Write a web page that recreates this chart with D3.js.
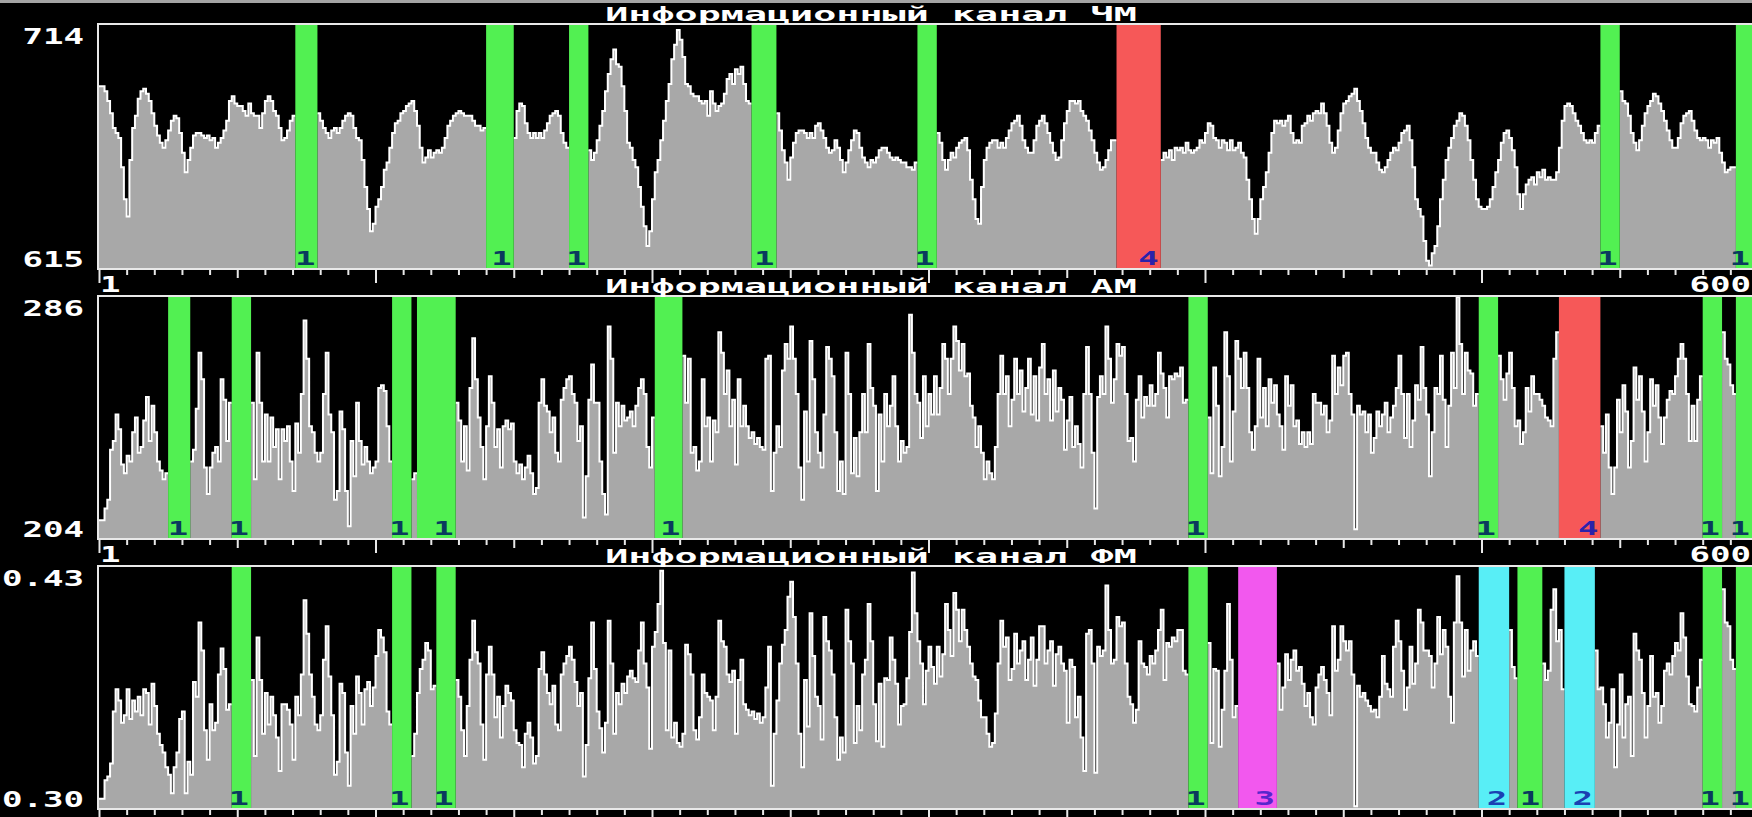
<!DOCTYPE html>
<html>
<head>
<meta charset="utf-8">
<script src="https://cdn.jsdelivr.net/npm/d3@7"></script>
<style>
html,body{margin:0;padding:0;background:#000;overflow:hidden}
</style>
</head>
<body>
<svg id="screen"></svg>
<script>
const N = null;
const titles = ["Информационный канал ЧМ", "Информационный канал АМ", "Информационный канал ФМ"];
const yTickLabels = [["615","714"],["204","286"],["0.30","0.43"]];
const yDomains = [[615,714],[204,286],[0.30,0.43]];
const xTickLabels = ["1","600"];

// one value per sample, null where a marker band covers the trace
const chmValues = [
689,689,687,683,678,672,670,668,656,643,
636,659,672,677,684,687,688,686,683,678,
673,669,666,664,667,671,675,677,676,670,
662,654,659,664,669,670,670,669,668,669,
667,668,664,666,668,671,675,683,685,682,
681,681,679,677,682,678,677,677,672,678,
683,685,683,679,677,672,667,668,671,675,
677,N,N,N,N,N,N,N,N,678,
675,672,670,668,671,672,670,672,675,677,
678,677,672,668,667,659,648,639,630,633,
640,643,648,655,658,664,670,674,675,678,
679,681,682,683,679,673,664,658,660,663,
660,662,663,662,664,668,673,675,677,678,
679,678,677,677,677,675,673,673,671,672,
N,N,N,N,N,N,N,N,N,N,
668,679,682,681,674,670,668,670,668,670,
668,671,674,677,678,679,677,670,666,664,
N,N,N,N,N,N,N,663,659,662,
667,673,679,687,694,700,704,698,697,689,
679,666,664,659,656,648,640,632,624,630,
643,654,659,667,675,683,690,700,706,712,
708,701,690,689,686,685,685,683,682,683,
677,687,682,679,681,682,686,692,694,690,
696,694,697,690,683,682,N,N,N,N,
N,N,N,N,N,678,671,663,658,651,
660,666,670,671,671,670,668,670,668,673,
674,671,668,664,662,663,667,664,659,654,
658,663,667,671,670,664,660,658,656,659,
658,660,663,664,664,662,660,659,660,659,
658,658,656,656,655,658,N,N,N,N,
N,N,N,670,666,659,655,659,662,660,
664,666,667,668,663,651,643,635,633,648,
659,664,666,667,667,664,666,664,668,671,
674,675,677,673,667,664,662,662,667,673,
675,677,674,670,666,662,659,660,667,674,
679,683,683,682,683,679,677,675,671,667,
662,658,655,656,659,663,667,667,N,N,
N,N,N,N,N,N,N,N,N,N,
N,N,N,N,659,662,660,663,659,664,
663,664,662,666,663,662,663,664,667,666,
670,674,673,668,667,664,667,666,663,667,
663,664,666,662,660,651,643,635,629,635,
643,648,654,662,670,675,674,675,673,675,
677,670,666,667,666,673,674,677,675,678,
679,678,682,678,673,666,662,664,671,678,
682,683,685,686,688,683,679,674,668,664,
662,662,658,655,654,656,659,662,664,663,
666,670,671,673,667,656,643,639,636,626,
618,616,621,624,632,643,651,659,664,668,
673,675,678,677,673,667,659,651,643,640,
639,639,640,643,648,654,659,666,670,671,
668,663,656,645,639,645,649,651,652,649,
654,652,655,651,652,651,651,654,664,675,
681,682,681,678,675,673,670,667,666,667,
666,670,673,N,N,N,N,N,N,N,
687,683,682,677,670,666,663,667,673,678,
681,683,686,685,682,679,675,671,667,664,
664,668,674,677,678,679,675,671,668,667,
668,667,664,667,666,668,662,658,654,655,
656,656,N,N,N,N,N,N,N,N
];

const amValues = [
210,210,214,217,234,237,246,241,229,226,
232,230,240,245,233,235,244,252,237,249,
240,230,227,224,226,N,N,N,N,N,
N,N,N,230,234,248,267,258,228,219,
228,233,235,230,258,251,237,250,N,N,
N,N,N,N,N,250,224,267,250,230,
246,230,245,235,241,224,241,237,242,230,
220,243,233,253,278,265,242,240,233,230,
233,253,267,246,240,217,220,247,241,220,
208,237,225,250,237,229,235,230,226,228,
230,255,256,254,242,230,N,N,N,N,
N,N,N,224,226,N,N,N,N,N,
N,N,N,N,N,N,N,N,N,250,
244,230,242,227,255,272,258,245,235,224,
242,259,250,235,241,228,242,244,241,243,
230,226,229,224,228,232,226,219,221,250,
258,249,247,240,245,233,230,251,255,258,
259,253,250,237,242,211,225,251,263,250,
250,230,219,212,276,265,233,250,242,249,
244,245,247,242,249,255,258,253,235,228,
245,N,N,N,N,N,N,N,N,N,
N,266,250,265,233,235,227,230,258,242,
245,230,244,240,274,267,253,261,242,251,
229,258,242,249,242,238,240,236,238,235,
234,265,266,220,233,242,235,261,270,265,
276,265,253,228,217,247,230,271,258,240,
233,228,246,269,265,259,240,220,230,219,
267,253,226,238,225,240,253,240,270,255,
249,220,246,230,253,242,249,259,242,230,
237,233,235,280,267,253,250,238,259,242,
253,246,259,246,255,270,265,253,265,276,
271,261,270,259,260,249,245,235,242,233,
224,230,226,224,235,253,266,253,259,242,
251,265,253,261,247,255,265,246,259,244,
262,270,253,258,244,261,247,255,251,234,
244,252,235,242,236,228,253,269,253,233,
214,252,259,253,276,265,250,258,270,266,
269,253,237,238,230,251,259,245,252,249,
256,249,253,267,260,255,245,259,258,260,
259,262,250,251,N,N,N,N,N,N,
N,245,226,262,249,225,235,274,259,230,
247,271,265,255,267,255,240,234,242,265,
245,255,242,258,250,256,246,242,234,259,
249,256,242,244,236,240,235,240,236,253,
250,250,246,249,240,244,266,253,262,256,
266,267,253,246,207,249,246,247,240,246,
233,238,247,242,246,250,240,245,249,255,
266,253,238,253,235,244,256,251,269,255,
246,225,240,255,253,266,251,235,249,267,
255,286,270,253,267,261,260,249,253,N,
N,N,N,N,N,N,266,258,251,260,
267,255,242,244,236,240,255,247,259,253,
253,251,249,245,244,242,265,274,N,N,
N,N,N,N,N,N,N,N,N,N,
N,N,N,242,233,246,228,219,228,251,
240,256,247,228,237,262,251,259,247,230,
240,258,249,256,245,236,245,251,254,253,
259,265,270,265,253,237,249,237,251,259,
N,N,N,N,N,N,N,274,265,263,
256,253,N,N,N,N,N,N,N,N
];

const fmValues = [
0.305,0.305,0.315,0.317,0.324,0.352,0.364,0.358,0.346,0.350,
0.364,0.348,0.358,0.352,0.360,0.350,0.364,0.362,0.345,0.367,
0.355,0.340,0.334,0.330,0.322,0.318,0.308,0.322,0.330,0.348,
0.352,0.308,0.325,0.318,0.368,0.360,0.400,0.385,0.342,0.326,
0.356,0.342,0.346,0.372,0.386,0.375,0.353,0.356,N,N,
N,N,N,N,N,0.369,0.328,0.392,0.369,0.340,
0.362,0.345,0.360,0.350,0.338,0.320,0.356,0.356,0.353,0.345,
0.326,0.360,0.350,0.372,0.412,0.394,0.372,0.360,0.345,0.342,
0.350,0.380,0.398,0.371,0.350,0.318,0.325,0.367,0.362,0.330,
0.312,0.355,0.340,0.371,0.362,0.345,0.364,0.368,0.355,0.365,
0.382,0.396,0.392,0.384,0.352,0.345,N,N,N,N,
N,N,N,0.328,0.340,0.362,0.375,0.380,0.389,0.385,
0.364,0.366,N,N,N,N,N,N,N,0.369,
0.360,0.342,0.328,0.355,0.380,0.401,0.384,0.378,0.345,0.326,
0.372,0.387,0.372,0.349,0.360,0.338,0.355,0.366,0.362,0.358,
0.342,0.335,0.334,0.322,0.340,0.346,0.338,0.324,0.328,0.375,
0.384,0.372,0.362,0.356,0.366,0.345,0.342,0.372,0.378,0.382,
0.387,0.380,0.368,0.355,0.362,0.317,0.334,0.370,0.400,0.375,
0.352,0.343,0.330,0.346,0.401,0.378,0.340,0.362,0.356,0.367,
0.362,0.371,0.374,0.370,0.368,0.385,0.400,0.378,0.365,0.332,
0.387,0.395,0.410,0.428,0.389,0.342,0.385,0.338,0.346,0.335,
0.333,0.340,0.388,0.383,0.372,0.342,0.337,0.349,0.372,0.362,
0.360,0.358,0.342,0.360,0.401,0.390,0.387,0.372,0.368,0.374,
0.340,0.369,0.380,0.356,0.353,0.350,0.352,0.348,0.351,0.346,
0.349,0.365,0.387,0.312,0.340,0.358,0.378,0.388,0.396,0.414,
0.422,0.403,0.378,0.340,0.322,0.369,0.344,0.405,0.382,0.360,
0.355,0.337,0.403,0.390,0.385,0.372,0.349,0.326,0.338,0.330,
0.407,0.390,0.378,0.335,0.355,0.342,0.372,0.380,0.410,0.390,
0.356,0.336,0.367,0.333,0.370,0.369,0.392,0.380,0.367,0.345,
0.355,0.356,0.370,0.395,0.427,0.405,0.390,0.378,0.356,0.374,
0.387,0.376,0.367,0.387,0.371,0.383,0.410,0.396,0.382,0.416,
0.407,0.390,0.407,0.396,0.387,0.378,0.371,0.369,0.358,0.349,
0.349,0.340,0.333,0.335,0.351,0.378,0.401,0.387,0.392,0.369,
0.375,0.394,0.378,0.385,0.390,0.369,0.380,0.392,0.366,0.380,
0.398,0.398,0.378,0.385,0.390,0.366,0.383,0.387,0.378,0.374,
0.346,0.380,0.376,0.349,0.360,0.338,0.320,0.394,0.396,0.378,
0.319,0.387,0.382,0.385,0.420,0.396,0.378,0.380,0.403,0.398,
0.400,0.378,0.360,0.356,0.346,0.353,0.390,0.378,0.376,0.372,
0.382,0.378,0.385,0.396,0.407,0.369,0.389,0.387,0.392,0.390,
0.396,0.396,0.374,0.372,N,N,N,N,N,N,
N,0.389,0.335,0.375,0.374,0.333,0.353,0.374,0.410,0.380,
0.349,0.355,N,N,N,N,N,N,N,N,
N,N,N,N,N,N,0.378,0.353,0.365,0.383,
0.369,0.380,0.385,0.374,0.376,0.367,0.355,0.362,0.349,0.345,
0.365,0.372,0.376,0.369,0.362,0.350,0.398,0.374,0.380,0.398,
0.390,0.385,0.390,0.372,0.301,0.366,0.360,0.362,0.358,0.355,
0.352,0.353,0.349,0.360,0.382,0.367,0.364,0.360,0.387,0.401,
0.390,0.374,0.353,0.365,0.387,0.367,0.378,0.407,0.400,0.385,
0.385,0.382,0.365,0.378,0.403,0.383,0.396,0.387,0.360,0.346,
0.400,0.425,0.400,0.371,0.396,0.374,0.385,0.390,0.382,N,
N,N,N,N,N,N,N,N,N,N,
0.396,0.376,0.370,N,N,N,N,N,N,N,
N,N,0.378,0.369,0.374,0.407,0.418,0.390,0.396,0.364,
N,N,N,N,N,N,N,N,N,N,
N,0.385,0.364,0.365,0.356,0.338,0.346,0.364,0.322,0.345,
0.372,0.338,0.356,0.360,0.328,0.394,0.385,0.380,0.362,0.338,
0.355,0.382,0.360,0.362,0.346,0.355,0.374,0.378,0.372,0.382,
0.389,0.385,0.405,0.392,0.371,0.356,0.355,0.352,0.365,0.380,
N,N,N,N,N,N,N,0.418,0.400,0.398,
0.380,0.375,N,N,N,N,N,N,N,N
];

// marker bands: [first sample, end sample, class]
const chmBands = [[71,79,1],[140,150,1],[170,177,1],[236,245,1],[296,303,1],[368,384,4],[543,550,1],[592,600,1]];
const amBands = [[25,33,1],[48,55,1],[106,113,1],[115,129,1],[201,211,1],[394,401,1],[499,506,1],[528,543,4],[580,587,1],[592,600,1]];
const fmBands = [[48,55,1],[106,113,1],[122,129,1],[394,401,1],[412,426,3],[499,510,2],[513,522,1],[530,541,2],[580,587,1],[592,600,1]];

const series = [chmValues, amValues, fmValues];
const bands = [chmBands, amBands, fmBands];

const W = 1752, H = 817;
const panels = [{top:25,bottom:268},{top:297,bottom:538},{top:567,bottom:808}];
const bandFill = {1:"#52f052",2:"#58eef6",3:"#f258ee",4:"#f65858"};
const bandInk = {1:"#0a3a5e",2:"#1a40b2",3:"#5626cc",4:"#2c22aa"};
const font = "'DejaVu Sans Mono', monospace";

const svg = d3.select("#screen").attr("width",W).attr("height",H);
svg.append("rect").attr("width",W).attr("height",H).attr("fill","#000");
svg.append("rect").attr("width",W).attr("height",3).attr("fill","#a4a4a4");

const x = d3.scaleLinear().domain([0,600]).range([99,1758]);

function label(g, txt, px, py, size, sx, anchor, color){
    g.append("text")
        .attr("transform",`translate(${px},${py}) scale(${sx},1)`)
        .attr("text-anchor",anchor)
        .attr("font-family",font)
        .attr("font-weight","bold")
        .attr("font-size",size)
        .attr("fill",color)
        .text(txt)
}

series.forEach((vals,k)=>{
    const p = panels[k];
    const y = d3.scaleLinear().domain(yDomains[k]).range([p.bottom,p.top]);
    const g = svg.append("g");

    g.append("clipPath").attr("id","clip"+k)
        .append("rect").attr("x",99).attr("y",p.top).attr("width",W-99).attr("height",p.bottom-p.top);

    const pts = [];
    vals.forEach((v,i)=>{
        pts.push({i:i,v:v});
        if(v!=null && (i==vals.length-1 || vals[i+1]==null)) pts.push({i:i+1,v:v});
    });

    const area = d3.area()
        .defined(d=>d.v!=null)
        .curve(d3.curveStepAfter)
        .x(d=>x(d.i)).y0(p.bottom).y1(d=>y(d.v));
    const line = d3.line()
        .defined(d=>d.v!=null)
        .curve(d3.curveStepAfter)
        .x(d=>x(d.i)).y(d=>y(d.v));

    const plot = g.append("g").attr("clip-path",`url(#clip${k})`);
    plot.append("path").datum(pts).attr("d",area).attr("fill","#a8a8a8");
    plot.append("path").datum(pts).attr("d",line)
        .attr("fill","none").attr("stroke","#fff").attr("stroke-width",2);

    plot.selectAll("rect.band").data(bands[k]).enter().append("rect")
        .attr("class","band")
        .attr("x",d=>x(d[0])).attr("width",d=>x(d[1])-x(d[0]))
        .attr("y",p.top).attr("height",p.bottom-p.top)
        .attr("fill",d=>bandFill[d[2]]);
    // class number sits at the right end of its band, kept inside the screen
    bands[k].forEach(d=>{
        label(g, String(d[2]), Math.min(x(d[1]), W) - 2, p.bottom-3, 20, 1.7, "end", bandInk[d[2]]);
    });

    // frame
    g.append("path")
        .attr("d",`M${W+2},${p.top-1}H98V${p.bottom+1}H${W+2}`)
        .attr("fill","none").attr("stroke","#e8e8e8").attr("stroke-width",2);

    // ticks every 10 samples, longer every 50 and 100
    [[d3.range(0,601,10).filter(t=>t%50),5],[d3.range(50,601,100),8],[d3.range(0,601,100),13]].forEach(([tv,len])=>{
        const ax = g.append("g").attr("transform",`translate(0,${p.bottom+2})`)
            .call(d3.axisBottom(x).tickValues(tv).tickSize(len).tickFormat(""));
        ax.select(".domain").remove();
        ax.selectAll("line").attr("stroke","#e8e8e8").attr("stroke-width",2);
    });

    label(g, titles[k], 871, p.top-4, 20, 1.92, "middle", "#fff");
    label(g, yTickLabels[k][1], 84, p.top+19, 22, 1.55, "end", "#fff");
    label(g, yTickLabels[k][0], 84, p.bottom-1, 22, 1.55, "end", "#fff");
    if (p.bottom + 24 < H) {
        label(g, xTickLabels[0], 100, p.bottom+24, 22, 1.55, "start", "#fff");
        label(g, xTickLabels[1], 1751, p.bottom+24, 22, 1.55, "end", "#fff");
    }
});
</script>
</body>
</html>
